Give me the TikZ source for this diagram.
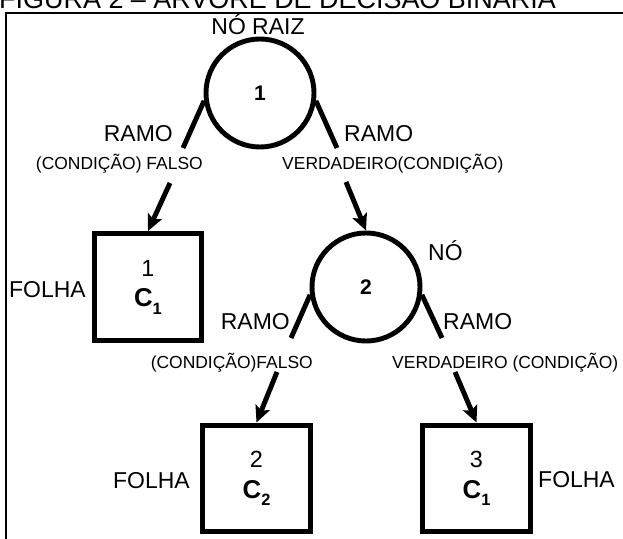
\documentclass[tikz,border=0pt]{standalone}
\usepackage{fontspec}
\setmainfont{Liberation Sans}
\usepackage{tikz}
\usetikzlibrary{arrows.meta}
\newcommand{\txgrande}{\fontsize{19.6pt}{23pt}\selectfont}
\newcommand{\txcond}{\fontsize{14.9pt}{17pt}\selectfont}
\newcommand{\txtitulo}{\fontsize{23pt}{27pt}\selectfont}
\newcommand{\classe}[1]{{\fontsize{22pt}{26pt}\selectfont\bfseries C}\raisebox{-6.5pt}{\fontsize{14pt}{14pt}\selectfont\bfseries #1}}

\begin{document}
\begin{tikzpicture}[x=0.03cm,y=-0.03cm,
    noarv/.style={circle,draw,line width=4.2pt,minimum size=3.24cm,inner sep=0pt,
        font=\fontsize{18pt}{20pt}\selectfont\bfseries},
    folhabox/.style={rectangle,draw,line width=4.5pt,minimum width=3.22cm,minimum height=3.2cm,
        inner sep=0pt,align=center,font=\fontsize{20pt}{26pt}\selectfont},
    rotulo/.style={inner sep=0pt,font=\txgrande},
    cond/.style={inner sep=0pt,font=\txcond},
    ramo/.style={line width=4.2pt},
    seta/.style={line width=4.2pt,-{Stealth[length=14pt,width=13pt,inset=3pt]}}]
        \useasboundingbox (0,0) rectangle (623,539);
        \clip (0,0) rectangle (623,539);

        %%% TITLE & FRAME %%%
        \node[anchor=base west,inner sep=0pt,font=\txtitulo] (titulo) at (-1,9) {FIGURA 2 – ÁRVORE DE DECISÃO BINÁRIA};
        \draw[line width=1.7pt] (6,13) rectangle (700,600);

        %%% NODES & LEAVES %%%
        \node[noarv] (raiz) at (260,93) {1};
        \node[noarv] (no2) at (366,287) {2};
        \node[folhabox] (f1) at (148,287) {1\\\classe{1}};
        \node[folhabox] (f2) at (256.5,478.5) {2\\\classe{2}};
        \node[folhabox] (f3) at (476.5,478.5) {3\\\classe{1}};

        %%% BRANCHES %%%
        \coordinate (p1f) at (183,148);
        \coordinate (p1v) at (337,148);
        \coordinate (p2f) at (291,338);
        \coordinate (p2v) at (442,338);
        \draw[ramo] (raiz.188) -- (p1f);
        \draw[ramo] (raiz.-8) -- (p1v);
        \draw[ramo] (no2.188) -- (p2f);
        \draw[ramo] (no2.-8) -- (p2v);

        %%% ARROWS %%%
        \coordinate (s1) at (170,183);
        \coordinate (s2) at (346,182);
        \coordinate (s3) at (277,372);
        \coordinate (s4) at (455,372);
        \draw[seta] (s1) -- (f1.north);
        \draw[seta] (s2) -- (no2.north);
        \draw[seta] (s3) -- (f2.north);
        \draw[seta] (s4) -- (f3.north);

        %%% LABELS %%%
        \node[rotulo,anchor=base] (txraiz) at (258,35) {NÓ RAIZ};
        \node[rotulo,anchor=base east] (ramo1f) at (173,142) {RAMO};
        \node[rotulo,anchor=base west] (ramo1v) at (344,142) {RAMO};
        \node[cond,anchor=base east] (cond1f) at (203,170) {(CONDIÇÃO) FALSO};
        \node[cond,anchor=base west] (cond1v) at (282,170) {VERDADEIRO(CONDIÇÃO)};
        \node[rotulo,anchor=base east] (txf1) at (86,297) {FOLHA};
        \node[rotulo,anchor=base west] (txno2) at (428,260) {NÓ};
        \node[rotulo,anchor=base east] (ramo2f) at (290,329) {RAMO};
        \node[rotulo,anchor=base west] (ramo2v) at (443,329) {RAMO};
        \node[cond,anchor=base east] (cond2f) at (313,368) {(CONDIÇÃO)FALSO};
        \node[cond,anchor=base west] (cond2v) at (392,368) {VERDADEIRO (CONDIÇÃO)};
        \node[rotulo,anchor=base east] (txf2) at (190,488) {FOLHA};
        \node[rotulo,anchor=base west] (txf3) at (538,487) {FOLHA};
    \end{tikzpicture}
\end{document}
